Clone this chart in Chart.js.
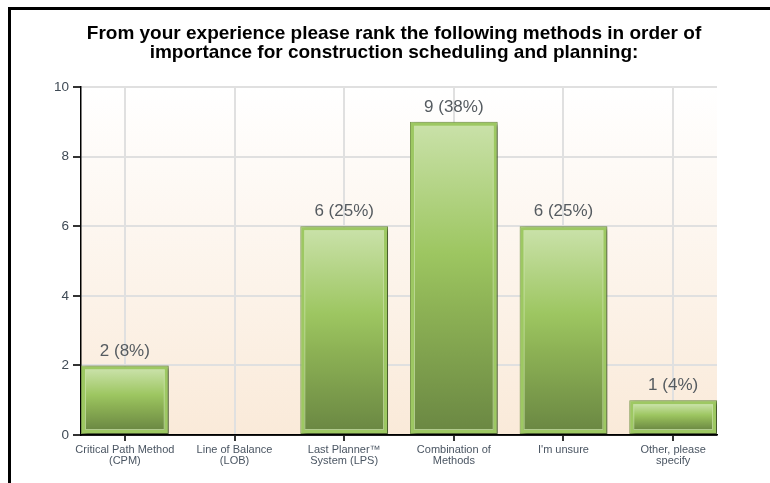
<!DOCTYPE html>
<html>
<head>
<meta charset="utf-8">
<script src="https://cdn.jsdelivr.net/npm/chart.js@4/dist/chart.umd.min.js"></script>
<style>
  html, body { margin: 0; padding: 0; background: #fff; }
  #frame {
    position: absolute; left: 8px; top: 7px;
    width: 762px; height: 476px;
    border-top: 3px solid #000; border-left: 3px solid #000;
    box-sizing: border-box;
  }
  #survey-chart { display: block; }
</style>
</head>
<body>
<div id="frame"><canvas id="survey-chart" width="759" height="473"></canvas></div>
<script>
const titleLines = [
  'From your experience please rank the following methods in order of',
  'importance for construction scheduling and planning:'
];
const methods = [
  ['Critical Path Method', '(CPM)'],
  ['Line of Balance', '(LOB)'],
  ['Last Planner\u2122', 'System (LPS)'],
  ['Combination of', 'Methods'],
  ["I'm unsure"],
  ['Other, please', 'specify']
];
const responses = [2, 0, 6, 9, 6, 1];
const yTicks = [0, 2, 4, 6, 8, 10];

const totalResponses = responses.reduce((a, b) => a + b, 0);
const FONT = 'Arial, "Liberation Sans", sans-serif';

// peach wash behind the plot
const plotBackground = {
  id: 'plotBackground',
  beforeDraw(chart) {
    const { ctx, chartArea: a } = chart;
    const g = ctx.createLinearGradient(0, a.top, 0, a.bottom);
    g.addColorStop(0, '#ffffff');
    g.addColorStop(1, '#faead9');
    ctx.save();
    ctx.fillStyle = g;
    ctx.fillRect(a.left, a.top, a.right - a.left, a.bottom - a.top);
    ctx.restore();
  }
};

// drop shadow under the bars
const barShadow = {
  id: 'barShadow',
  beforeDatasetDraw(chart) {
    const ctx = chart.ctx;
    ctx.save();
    ctx.shadowColor = 'rgba(0,0,0,0.5)';
    ctx.shadowBlur = 4;
    ctx.shadowOffsetX = 3;
    ctx.shadowOffsetY = 2;
  },
  afterDatasetDraw(chart) {
    chart.ctx.restore();
  }
};

// glossy inner panel, value labels, and the base line on top of the bars
const barDecor = {
  id: 'barDecor',
  afterDatasetsDraw(chart) {
    const ctx = chart.ctx;
    const meta = chart.getDatasetMeta(0);
    meta.data.forEach((el, i) => {
      const { x, y, base, width } = el.getProps(['x', 'y', 'base', 'width'], true);
      const top = Math.min(y, base), bottom = Math.max(y, base);
      const left = x - width / 2;
      const inset = 4;
      if (bottom - top > inset * 2 + 2) {
        const g = ctx.createLinearGradient(0, top + inset, 0, bottom - inset);
        g.addColorStop(0, '#c9e1a8');
        g.addColorStop(0.42, '#9dc661');
        g.addColorStop(0.6, '#8db255');
        g.addColorStop(1, '#6b8843');
        ctx.save();
        ctx.fillStyle = g;
        ctx.fillRect(left + inset, top + inset, width - inset * 2, bottom - top - inset * 2);
        ctx.strokeStyle = 'rgba(200,226,165,0.75)';
        ctx.lineWidth = 1;
        ctx.strokeRect(left + inset + 0.5, top + inset + 0.5, width - inset * 2 - 1, bottom - top - inset * 2 - 1);
        ctx.restore();
      }
      const v = responses[i];
      if (v > 0) {
        ctx.save();
        ctx.font = '17px ' + FONT;
        ctx.fillStyle = '#555b60';
        ctx.textAlign = 'center';
        ctx.textBaseline = 'bottom';
        ctx.fillText(v + ' (' + Math.round(v / totalResponses * 100) + '%)', x, top - 6);
        ctx.restore();
      }
    });
    const a = chart.chartArea;
    ctx.save();
    ctx.strokeStyle = '#000';
    ctx.lineWidth = 1.5;
    ctx.beginPath();
    ctx.moveTo(a.left, a.bottom);
    ctx.lineTo(a.right, a.bottom);
    ctx.stroke();
    ctx.restore();
  }
};

const ctx = document.getElementById('survey-chart').getContext('2d');
new Chart(ctx, {
  type: 'bar',
  data: {
    datasets: [{
      data: responses.map((v, i) => ({ x: i, y: v })),
      backgroundColor: '#9dc862',
      borderColor: '#7c9d4e',
      borderWidth: 1,
      borderSkipped: false,
      categoryPercentage: 1,
      barPercentage: 0.8,
      clip: false
    }]
  },
  options: {
    responsive: false,
    animation: false,
    devicePixelRatio: 1,
    layout: { padding: { left: 40, right: 33, top: 0, bottom: 0 } },
    plugins: {
      legend: { display: false },
      tooltip: { enabled: false },
      title: {
        display: true,
        text: titleLines,
        color: '#000',
        font: { family: FONT, size: 19, weight: 'bold', lineHeight: 1.0 },
        padding: { top: 14, bottom: 25 }
      }
    },
    scales: {
      x: {
        type: 'linear',
        offset: false,
        min: -0.4,
        max: methods.length - 0.6,
        afterBuildTicks: s => { s.ticks = methods.map((_, i) => ({ value: i })); },
        afterFit: s => { s.height = 48; },
        grid: { offset: false, color: '#e0e0e0', lineWidth: 2, tickColor: '#333', tickLength: 6, drawTicks: true },
        border: { color: '#000', width: 1.5 },
        ticks: {
          autoSkip: false,
          maxRotation: 0,
          padding: 3,
          color: '#4a5562',
          font: { family: FONT, size: 11, lineHeight: 1.0 },
          callback: v => methods[v]
        }
      },
      y: {
        min: 0,
        max: 10,
        afterBuildTicks: s => { s.ticks = yTicks.map(v => ({ value: v })); },
        afterFit: s => { s.width = 30; },
        grid: { color: '#e0e0e0', lineWidth: 2, tickColor: '#333', tickLength: 8 },
        border: { color: '#000', width: 1.5 },
        ticks: {
          padding: 4,
          color: '#3f4a55',
          font: { family: FONT, size: 13.5 }
        }
      },
      // empty strip on the right so the plot ends short of the title's right edge
      gutter: {
        axis: 'y',
        position: 'right',
        display: true,
        grid: { display: false },
        ticks: { display: false },
        border: { display: false },
        afterFit: s => { s.width = 20; }
      }
    }
  },
  plugins: [plotBackground, barShadow, barDecor]
});
</script>
</body>
</html>
